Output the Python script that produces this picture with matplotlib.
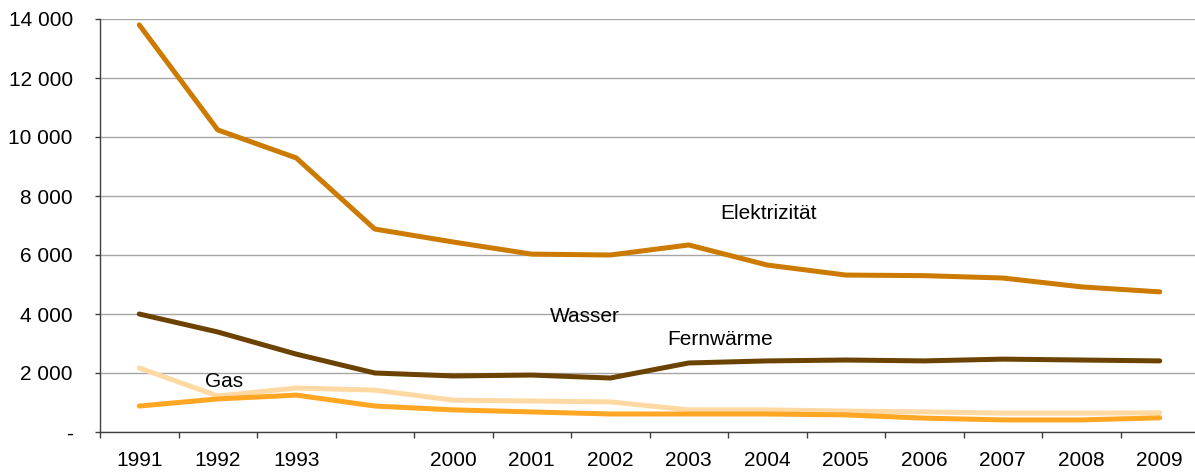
import matplotlib.pyplot as plt
import numpy as np

plt.rcParams['font.family'] = ['Liberation Sans', 'DejaVu Sans']

# Kategorien (eine Leerkategorie zwischen 1993 und 2000)
jahre = ['1991', '1992', '1993', '', '2000', '2001', '2002', '2003',
         '2004', '2005', '2006', '2007', '2008', '2009']

elektrizitaet = [13800, 10240, 9290, 6880, 6440, 6030, 6000, 6340,
                 5660, 5320, 5300, 5220, 4920, 4750]
fernwaerme = [4000, 3390, 2640, 2000, 1900, 1930, 1830, 2340,
              2410, 2440, 2410, 2470, 2440, 2410]
wasser = [2170, 1220, 1490, 1420, 1080, 1050, 1020, 750,
          750, 710, 680, 640, 640, 650]
gas = [880, 1120, 1250, 880, 750, 680, 610, 610,
       610, 580, 470, 410, 410, 480]

y_ticks = [0, 2000, 4000, 6000, 8000, 10000, 12000, 14000]
y_labels = ['-', '2 000', '4 000', '6 000', '8 000', '10 000', '12 000', '14 000']

fig = plt.figure(figsize=(11.95, 4.74), dpi=100)
ax = fig.add_axes([100 / 1195, 42 / 474, 1099 / 1195, 413 / 474])

x = np.arange(len(jahre))
lw = 3.6
ax.plot(x, elektrizitaet, color='#CC7A00', lw=lw, solid_capstyle='round', zorder=3)
ax.plot(x, fernwaerme, color='#6B4200', lw=lw, solid_capstyle='round', zorder=3)
ax.plot(x, wasser, color='#FFD9A3', lw=lw, solid_capstyle='round', zorder=3)
ax.plot(x, gas, color='#FFA623', lw=lw, solid_capstyle='round', zorder=4)

# Beschriftungen direkt im Diagramm
fs = 15
ax.text(7.40, 7390, 'Elektrizität', fontsize=fs, va='center', ha='left')
ax.text(5.23, 3900, 'Wasser', fontsize=fs, va='center', ha='left')
ax.text(6.72, 3120, 'Fernwärme', fontsize=fs, va='center', ha='left')
ax.text(0.84, 1695, 'Gas', fontsize=fs, va='center', ha='left')

ax.set_xlim(-0.5, len(jahre) - 0.5)
ax.set_ylim(0, 14000)

ax.set_yticks(y_ticks)
ax.set_yticklabels(y_labels, fontsize=fs)
ax.tick_params(axis='y', length=3.6, width=1, color='#404040', pad=16)

# Striche an Kategoriegrenzen, Labels in der Mitte
ax.set_xticks(np.arange(len(jahre) + 1) - 0.5)
ax.set_xticklabels([])
ax.set_xticks(x, minor=True)
ax.set_xticklabels(jahre, minor=True, fontsize=fs)
ax.tick_params(axis='x', which='major', length=4.5, width=1, color='#404040')
ax.tick_params(axis='x', which='minor', length=0, pad=14)

ax.yaxis.grid(True, color='#A6A6A6', lw=1)
ax.set_axisbelow(True)
for s in ['top', 'right']:
    ax.spines[s].set_visible(False)
for s in ['left', 'bottom']:
    ax.spines[s].set_color('#404040')
    ax.spines[s].set_linewidth(1)

fig.savefig('out.png', dpi=100)
